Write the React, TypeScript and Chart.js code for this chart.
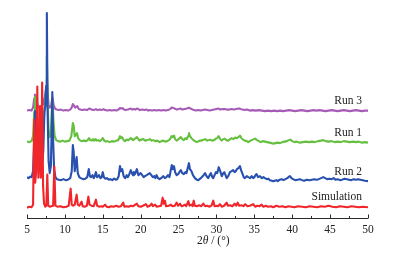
import React, { useEffect, useRef } from "react";
import { Chart, registerables } from "chart.js";

Chart.register(...registerables);

// ---- data (2θ in degrees, relative intensity above each trace's own baseline) ----
const xTickValues = [5, 10, 15, 20, 25, 30, 35, 40, 45, 50];
const seriesNames = ["Simulation", "Run 2", "Run 1", "Run 3"];
const seriesOffsets = [10.5, 37, 76, 107.5];

const simulation: [number, number][] = [
  [5.0,0],[5.3,1],[5.6,0.5],[5.8,3],[5.95,88],[6.08,25],[6.2,35],[6.36,121],[6.5,30],[6.6,50],[6.7,101],[6.82,30],[6.9,40],[7.0,125],[7.12,22],[7.25,4],[7.4,1],[7.55,2],[7.68,33],[7.8,2],[8.0,1],[8.2,1.5],[8.45,2],[8.6,41],[8.75,2],[9.0,1],[9.4,1.5],[9.8,0.5],[10.2,1],[10.5,2],[10.76,19],[10.9,3],[11.1,2],[11.3,3],[11.55,13],[11.7,3],[11.9,2],[12.2,6],[12.35,1.5],[12.6,1],[12.9,2],[13.1,11],[13.25,3],[13.5,2],[13.8,1.5],[14.1,8],[14.25,2],[14.5,1],[14.8,1.5],[15.0,1],[15.3,3],[15.5,1],[15.8,0.5],[16.1,1.5],[16.4,1],[16.8,2],[17.1,1],[17.4,1.5],[17.7,5],[17.85,1],[18.1,1.5],[18.4,1],[18.7,2],[19.0,1.5],[19.2,2.5],[19.5,4],[19.7,1.5],[20.0,1],[20.3,2],[20.7,3.5],[20.9,1],[21.2,2],[21.45,4],[21.6,1.5],[21.9,3],[22.1,1],[22.4,1.5],[22.7,2],[22.9,10],[23.05,4],[23.2,7],[23.35,1.5],[23.7,2],[24.0,3],[24.2,1.5],[24.5,2],[24.75,5],[24.95,2],[25.2,4],[25.4,1.5],[25.6,2],[25.85,3],[26.0,1.5],[26.3,6.5],[26.45,2],[26.7,3],[26.85,1.5],[27.0,7],[27.15,2],[27.4,1.5],[27.7,2.5],[28.0,1.5],[28.26,4],[28.5,1.5],[28.8,2],[29.1,1],[29.35,2],[29.58,7],[29.75,1.5],[30.0,2],[30.2,1.5],[30.46,3.5],[30.7,1],[31.0,2],[31.35,5],[31.5,2],[31.8,2.5],[32.1,1.5],[32.4,4],[32.6,2],[32.8,5],[33.0,2],[33.3,2.5],[33.55,1.5],[33.8,3.5],[34.1,1.5],[34.4,2],[34.85,3.5],[35.1,1],[35.4,2],[35.7,1.5],[35.96,3],[36.2,1],[36.5,2],[36.8,1],[37.2,1.5],[37.5,0.5],[37.9,2],[38.3,1],[38.7,1.5],[39.1,0.5],[39.5,1.5],[39.9,1],[40.3,0.5],[40.8,1.5],[41.3,1],[41.8,0.5],[42.3,1.5],[42.8,1],[43.3,0.5],[43.8,1.5],[44.3,1],[44.8,2],[45.3,1],[45.8,0.5],[46.3,1.5],[46.8,1],[47.3,0.5],[47.8,1.5],[48.3,1],[48.8,0.5],[49.3,1],[50,0.5],
];

const run2: [number, number][] = [
  [5.0,4],[5.2,3],[5.4,4.5],[5.6,4],[5.8,10],[5.95,40],[6.05,70],[6.15,60],[6.25,50],[6.4,25],[6.55,18],[6.7,16],[6.85,15],[7.0,18],[7.15,30],[7.3,70],[7.42,75],[7.52,95],[7.62,168],[7.72,70],[7.85,20],[8.0,8],[8.15,15],[8.28,60],[8.34,89],[8.45,40],[8.58,12],[8.75,4],[8.95,2],[9.2,1.5],[9.5,1],[9.8,2],[10.1,1],[10.4,1.5],[10.7,3],[10.9,10],[11.05,36],[11.15,30],[11.3,10],[11.45,18],[11.55,24],[11.7,8],[11.9,4],[12.1,3],[12.4,2],[12.7,2.5],[12.95,4],[13.15,12],[13.3,5],[13.45,4],[13.65,6],[13.8,3],[13.95,5],[14.1,9],[14.25,4],[14.4,5],[14.5,6],[14.7,3],[14.85,4],[15.0,9],[15.15,4],[15.35,2.5],[15.55,3],[15.8,1.5],[16.0,2],[16.25,1],[16.5,2.5],[16.7,1.5],[16.9,2],[17.1,5],[17.27,15],[17.4,10],[17.57,12],[17.75,5],[17.95,3],[18.15,6],[18.3,4],[18.5,7],[18.7,11],[18.85,8],[19.0,6],[19.1,9],[19.25,7],[19.5,12],[19.7,6],[19.85,7],[20.0,8],[20.2,6],[20.4,4],[20.57,5],[20.8,6],[21.0,7],[21.2,8],[21.4,6],[21.6,4],[21.8,5],[21.95,3],[22.1,6],[22.3,3],[22.5,2],[22.7,3],[22.98,5],[23.2,3],[23.4,4],[23.6,6],[23.8,4],[23.95,10],[24.1,16],[24.25,12],[24.4,15],[24.55,9],[24.75,6],[24.95,7],[25.1,9],[25.3,11],[25.5,8],[25.7,7],[25.9,9],[26.05,8],[26.2,13],[26.37,18],[26.5,12],[26.7,10],[26.9,6],[27.16,3],[27.4,1.5],[27.6,1],[27.85,2.5],[28.05,4],[28.3,6],[28.5,8],[28.7,5],[28.9,3],[29.1,6],[29.27,8],[29.45,4],[29.58,3],[29.75,6],[29.93,9],[30.1,8],[30.3,14],[30.5,10],[30.7,5],[30.9,8],[31.03,9],[31.2,6],[31.35,3],[31.55,5],[31.78,9],[32.0,10],[32.2,11],[32.4,9],[32.55,10],[32.7,12],[32.9,13],[33.1,15],[33.25,11],[33.45,7],[33.6,4],[33.76,3],[34.0,5],[34.2,4],[34.45,3],[34.65,5],[34.85,3],[35.0,4],[35.15,6],[35.3,7],[35.5,4],[35.74,5],[36.0,3],[36.2,4],[36.4,3],[36.65,2],[36.85,2.5],[37.06,1],[37.3,0.5],[37.5,0],[37.7,0.5],[37.9,1],[38.1,0],[38.35,1.5],[38.6,2],[38.85,1],[39.1,2],[39.35,3],[39.55,4.5],[39.7,5],[39.9,3],[40.1,2],[40.4,1],[40.7,1.5],[41.0,2],[41.3,1],[41.6,0.5],[41.9,1.5],[42.3,1],[42.6,1.5],[42.9,2],[43.2,1.5],[43.5,2],[43.8,3],[44.1,4],[44.35,3],[44.6,2],[44.9,2.5],[45.2,2],[45.45,3],[45.7,1.5],[46.0,2],[46.3,1],[46.6,1.5],[46.9,2.5],[47.2,2],[47.5,1.5],[47.8,1],[48.1,2],[48.4,1.5],[48.7,2],[49.0,1.5],[49.3,1],[49.6,0.5],[50,0],
];

const run1: [number, number][] = [
  [5.0,0.5],[5.3,0],[5.6,1],[5.8,6],[5.95,30],[6.05,45],[6.15,35],[6.3,27],[6.45,15],[6.6,10],[6.8,9],[7.0,11],[7.2,20],[7.4,40],[7.52,55],[7.62,85],[7.72,40],[7.85,12],[8.0,5],[8.15,10],[8.3,35],[8.38,40],[8.5,20],[8.65,6],[8.85,2],[9.1,1],[9.4,0.5],[9.7,1.5],[10.0,0.5],[10.3,1],[10.6,1.5],[10.85,6],[11.05,19],[11.15,17],[11.3,6],[11.45,7],[11.6,9],[11.75,4],[11.95,2],[12.2,1],[12.5,1.5],[12.8,1],[13.0,2],[13.2,4],[13.35,2],[13.55,1.5],[13.7,3],[13.85,1.5],[14.06,3],[14.2,1.5],[14.4,2],[14.6,1],[14.8,2],[15.0,4],[15.2,1.5],[15.4,0.5],[15.6,1],[15.9,0],[16.2,1],[16.5,0.5],[16.8,1.5],[17.05,2],[17.27,6],[17.4,4],[17.55,5],[17.75,2],[17.93,1],[18.15,2.5],[18.37,2],[18.55,3],[18.7,4],[18.85,3],[19.0,2],[19.15,3],[19.35,4],[19.5,5],[19.7,3],[19.85,1.5],[20.05,2.5],[20.35,3],[20.6,1.5],[20.85,2],[21.05,2.5],[21.2,3],[21.45,1.5],[21.65,2],[21.9,1],[22.2,1.5],[22.5,0],[22.75,1],[23.0,1.5],[23.25,0.5],[23.5,1],[23.75,2],[23.95,4],[24.1,6],[24.25,5],[24.4,6.5],[24.55,3],[24.75,1.5],[25.0,3],[25.3,5],[25.5,3],[25.7,2],[25.9,4],[26.1,3],[26.25,6],[26.37,9],[26.5,6],[26.7,4],[26.95,2],[27.16,1],[27.4,0],[27.65,1],[27.9,1.5],[28.2,2],[28.5,3],[28.8,1.5],[29.15,2.5],[29.4,1.5],[29.7,2],[29.93,3.5],[30.1,4],[30.3,6],[30.5,3],[30.7,1.5],[30.9,3],[31.1,3.5],[31.3,2],[31.55,1.5],[31.8,3],[32.0,4],[32.25,3],[32.44,4.5],[32.7,4],[32.9,5],[33.1,6.5],[33.3,4],[33.5,2.5],[33.75,1.5],[34.0,1],[34.2,0],[34.5,1.5],[34.8,2.5],[35.1,3.5],[35.35,2],[35.6,1],[35.85,0],[36.1,1],[36.4,0.5],[36.7,0],[37.0,-0.5],[37.3,-1],[37.5,-1.5],[37.8,-1],[38.1,-0.5],[38.4,-1],[38.7,0],[39.0,0.5],[39.3,1],[39.55,2],[39.75,2.5],[40.0,1],[40.3,0],[40.6,0.5],[41.0,-0.5],[41.4,0],[41.8,0.5],[42.2,0],[42.6,0.5],[43.0,0],[43.4,1],[43.8,1.5],[44.1,2],[44.4,1],[44.8,0.5],[45.2,1],[45.6,0],[46.0,0.5],[46.4,0],[46.8,1],[47.2,0.5],[47.6,0],[48.0,0.5],[48.4,0],[48.8,0.5],[49.2,-0.5],[49.6,0],[50,-0.5],
];

const run3: [number, number][] = [
  [5.0,0],[5.3,0.5],[5.6,0],[5.8,3],[5.95,12],[6.05,16],[6.15,11],[6.3,8],[6.5,3.5],[6.7,4],[6.9,5],[7.1,6],[7.3,12],[7.45,18],[7.55,24],[7.62,32],[7.72,18],[7.85,5],[8.0,3],[8.15,4],[8.3,11],[8.38,13],[8.5,6],[8.7,2],[8.9,1],[9.2,0.5],[9.5,1],[9.8,0],[10.1,0.5],[10.4,0],[10.7,1],[10.9,3],[11.05,6.5],[11.2,5],[11.35,3],[11.5,4],[11.64,4.5],[11.8,2],[12.0,1],[12.3,0.5],[12.6,1],[12.9,0.5],[13.1,1.5],[13.3,2],[13.5,1],[13.8,0.5],[14.1,1.5],[14.3,0.5],[14.6,1],[14.8,0.5],[15.1,1.5],[15.3,0.5],[15.6,0],[15.9,0.5],[16.2,0],[16.5,0.5],[16.8,0],[17.05,1],[17.27,2.5],[17.45,2],[17.6,2.5],[17.8,1],[18.0,0.5],[18.3,1],[18.5,1.5],[18.7,2],[18.9,1],[19.1,1.5],[19.3,1],[19.5,2],[19.7,1.5],[19.9,0.5],[20.2,1],[20.5,0.5],[20.8,1],[21.0,0],[21.2,0.5],[21.5,0],[21.8,0.5],[22.1,0],[22.4,0.5],[22.7,0],[23.0,0.5],[23.3,0],[23.6,0.5],[23.9,1.5],[24.1,3],[24.3,2.5],[24.5,2],[24.75,1],[25.0,1.5],[25.3,2],[25.5,1],[25.8,1.5],[26.1,2],[26.37,3],[26.55,2],[26.75,1.5],[27.0,0.5],[27.3,0],[27.6,0.5],[27.9,0],[28.2,0.5],[28.5,1],[28.8,0.5],[29.1,0],[29.4,0.5],[29.7,1],[30.0,1.5],[30.3,2],[30.5,1],[30.8,1.5],[31.1,1.5],[31.4,1],[31.7,1],[32.0,1.5],[32.3,1],[32.6,1.5],[32.9,2],[33.1,2],[33.4,1],[33.7,0.5],[34.0,1],[34.4,0],[34.8,0.5],[35.2,0],[35.6,0.5],[36.0,0],[36.4,-0.5],[36.8,0],[37.2,-0.5],[37.6,0],[38.0,-0.5],[38.4,0],[38.8,-0.5],[39.2,0],[39.6,0.5],[40.0,0],[40.4,-0.5],[40.8,0],[41.2,0.5],[41.6,0],[42.0,-0.5],[42.4,0],[42.8,0.5],[43.2,0],[43.6,0.5],[44.0,0],[44.4,-0.5],[44.8,0],[45.2,0.5],[45.6,0],[46.0,-0.5],[46.4,0],[46.8,0.5],[47.2,0],[47.6,-0.5],[48.0,0],[48.4,0.5],[48.8,0],[49.2,-0.5],[49.6,0],[50,0],
];

const seriesData = [simulation, run2, run1, run3];

// ---- styles / layout ----
const seriesColors = ["#f0262a", "#2850ae", "#66c040", "#a65cb6"];
const labelYValues = [21, 46, 85, 117]; // label centre heights (y-axis units)
const FONT = "'Liberation Serif', 'DejaVu Serif', serif";
const W = 395;
const H = 259;

const decorPlugin = {
  id: "decor",
  afterDraw(chart: any) {
    const { ctx, chartArea } = chart;
    const xs = chart.scales.x;
    const ys = chart.scales.y;
    ctx.save();
    // axis line
    const yAxis = Math.round(chartArea.bottom) + 0.5;
    ctx.strokeStyle = "#2a2a2a";
    ctx.lineWidth = 1;
    ctx.beginPath();
    ctx.moveTo(xs.getPixelForValue(5), yAxis);
    ctx.lineTo(xs.getPixelForValue(50), yAxis);
    ctx.stroke();
    // inward ticks (major every 5, minor every 2.5)
    for (let v = 5; v <= 50.001; v += 2.5) {
      const major = Math.abs(v / 5 - Math.round(v / 5)) < 1e-6;
      const px = Math.round(xs.getPixelForValue(v)) + 0.5;
      ctx.beginPath();
      ctx.moveTo(px, yAxis);
      ctx.lineTo(px, yAxis - (major ? 4 : 2.5));
      ctx.stroke();
    }
    // series labels
    ctx.fillStyle = "#222";
    ctx.font = `11.5px ${FONT}`;
    ctx.textAlign = "right";
    ctx.textBaseline = "middle";
    const right = xs.getPixelForValue(50) - 6;
    seriesNames.forEach((name, i) => {
      ctx.fillText(name, right, ys.getPixelForValue(labelYValues[i]));
    });
    // axis title: 2θ / (°)
    const ty = chartArea.bottom + 23;
    let tx = (chartArea.left + chartArea.right) / 2 - 0.5;
    ctx.textAlign = "left";
    ctx.font = `11.5px ${FONT}`;
    ctx.fillText("2", tx, ty);
    tx += ctx.measureText("2").width;
    ctx.font = `italic 11.5px ${FONT}`;
    ctx.fillText("θ", tx, ty);
    tx += ctx.measureText("θ").width;
    ctx.font = `11.5px ${FONT}`;
    ctx.fillText(" / (°)", tx, ty);
    ctx.restore();
  },
};

export default function App() {
  const canvasRef = useRef<HTMLCanvasElement | null>(null);

  useEffect(() => {
    document.body.style.margin = "0";
    const canvas = canvasRef.current;
    if (!canvas) return;
    const datasets = seriesData.map((series, i) => ({
      label: seriesNames[i],
      data: series.map(([t, v]) => ({ x: t, y: v + seriesOffsets[i] })),
      borderColor: seriesColors[i],
      borderWidth: 2.1,
      pointRadius: 0,
      tension: 0,
      fill: false,
      borderJoinStyle: "round" as const,
    }));
    const chart = new Chart(canvas, {
      type: "line",
      data: { datasets },
      options: {
        animation: false,
        responsive: false,
        devicePixelRatio: 1,
        layout: { padding: { left: 27, right: 27, top: 8, bottom: 17 } },
        plugins: {
          legend: { display: false },
          tooltip: { enabled: false },
          title: { display: false },
        },
        scales: {
          x: {
            type: "linear",
            min: 5,
            max: 50,
            afterBuildTicks: (scale: any) => {
              scale.ticks = xTickValues.map((v) => ({ value: v }));
            },
            grid: { display: false, drawTicks: false },
            border: { display: false },
            ticks: {
              padding: 5,
              color: "#222",
              font: { family: FONT, size: 11.5 },
              maxRotation: 0,
              autoSkip: false,
            },
          },
          y: {
            type: "linear",
            display: false,
            min: 0,
            max: 210,
          },
        },
      },
      plugins: [decorPlugin],
    });
    return () => chart.destroy();
  }, []);

  return (
    <div style={{ width: W, height: H, background: "#fff" }}>
      <canvas ref={canvasRef} width={W} height={H} style={{ display: "block" }} />
    </div>
  );
}
